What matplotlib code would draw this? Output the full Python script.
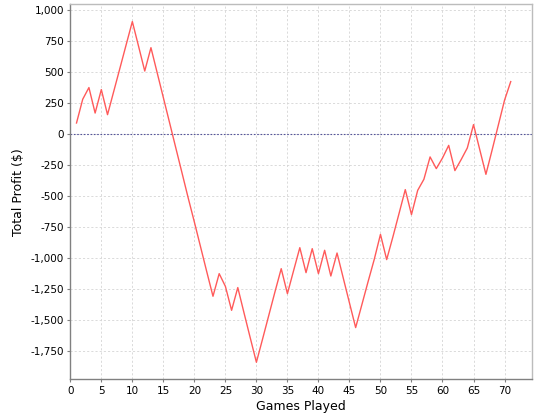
import matplotlib
matplotlib.use('Agg')
import matplotlib.pyplot as plt
from matplotlib.ticker import FuncFormatter

# --- data ---
games = list(range(1, 72))
profit = [
    87, 278, 372, 167, 356, 154, 341, 528, 716, 903,
    705, 505, 693, 492, 291, 90, -112, -313, -515, -710,
    -910, -1110, -1307, -1125, -1227, -1420, -1237, -1440, -1640, -1838,
    -1650, -1460, -1270, -1085, -1286, -1100, -916, -1117, -924, -1125,
    -937, -1144, -959, -1160, -1360, -1559, -1375, -1190, -1010, -809,
    -1012, -830, -640, -449, -650, -455, -366, -186, -280, -195,
    -93, -296, -208, -114, 74, -126, -326, -130, 70, 270,
    420,
]

x_ticks = list(range(0, 75, 5))
y_ticks = list(range(-1750, 1001, 250))

fig = plt.figure(figsize=(5.4, 4.2), dpi=100)
ax = fig.add_axes([0.1302, 0.0969, 0.8558, 0.8929])

# grid
for t in x_ticks:
    ax.axvline(t, color='#d4d4d4', lw=0.6, ls=(0, (2.5, 2.5)), zorder=0)
for t in y_ticks:
    ax.axhline(t, color='#d4d4d4', lw=0.6, ls=(0, (2.5, 2.5)), zorder=0)

# zero line
ax.axhline(0, color='#55559a', lw=0.8, ls=(0, (1.5, 1.5)), zorder=1)

ax.plot(games, profit, color='#ff5a5a', lw=1.0, zorder=2)

ax.set_xlim(0, 74.5)
ax.set_ylim(-1975, 1042)
ax.set_xticks(x_ticks)
ax.set_yticks(y_ticks)
ax.yaxis.set_major_formatter(FuncFormatter(lambda v, p: f'{v:,.0f}'))

ax.tick_params(axis='both', labelsize=7.5, length=2.5, width=0.8,
               color='#808080', pad=2)
for side in ['left', 'bottom']:
    ax.spines[side].set_color('#808080')
    ax.spines[side].set_linewidth(1.0)
for side in ['top', 'right']:
    ax.spines[side].set_color('#bcbcbc')
    ax.spines[side].set_linewidth(1.0)

ax.set_xlabel('Games Played', fontsize=9, labelpad=3)
ax.set_ylabel('Total Profit ($)', fontsize=9, labelpad=4)

fig.savefig('out.png', dpi=100)
